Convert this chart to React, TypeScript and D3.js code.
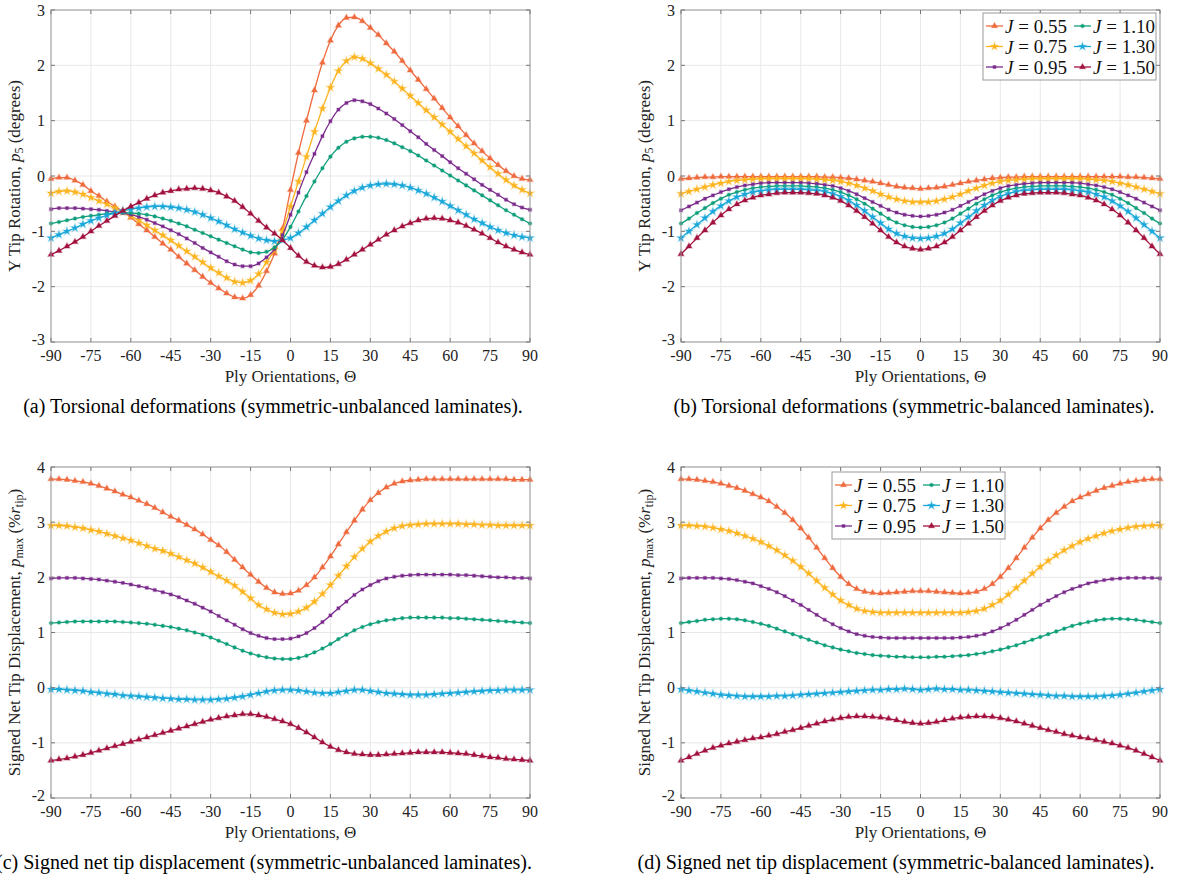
import React from "react";
import * as d3 from "d3";

// ---------- data ----------
const THETA = [
  -90, -87, -84, -81, -78, -75, -72, -69, -66, -63,
  -60, -57, -54, -51, -48, -45, -42, -39, -36, -33,
  -30, -27, -24, -21, -18, -15, -12, -9, -6, -3,
  0,
  3, 6, 9, 12, 15, 18, 21, 24, 27, 30,
  33, 36, 39, 42, 45, 48, 51, 54, 57, 60,
  63, 66, 69, 72, 75, 78, 81, 84, 87, 90,
];
const J_VALUES = ["0.55", "0.75", "0.95", "1.10", "1.30", "1.50"];
const X_TICKS = [-90, -75, -60, -45, -30, -15, 0, 15, 30, 45, 60, 75, 90];
const Y_TICKS_ROT = [-3, -2, -1, 0, 1, 2, 3];
const Y_TICKS_DISP = [-2, -1, 0, 1, 2, 3, 4];

// (a) torsional, symmetric-unbalanced
const A_055 = [
  -0.05, -0.03, -0.03, -0.08, -0.16, -0.27, -0.36, -0.46, -0.55, -0.64,
  -0.75, -0.87, -0.98, -1.10, -1.22, -1.33, -1.46, -1.58, -1.70, -1.82,
  -1.93, -2.03, -2.12, -2.19, -2.21, -2.15, -1.98, -1.72, -1.40, -0.95,
  -0.25,
  0.42, 1.00, 1.55, 2.05, 2.45, 2.72, 2.86, 2.87, 2.80, 2.68,
  2.55, 2.40, 2.25, 2.08, 1.91, 1.74, 1.57, 1.40, 1.23, 1.06,
  0.90, 0.74, 0.59, 0.45, 0.32, 0.20, 0.09, 0.00, -0.05, -0.07,
];
const A_075 = [
  -0.31, -0.28, -0.27, -0.29, -0.33, -0.39, -0.45, -0.51, -0.58, -0.65,
  -0.72, -0.80, -0.89, -0.98, -1.07, -1.16, -1.26, -1.36, -1.46, -1.56,
  -1.66, -1.75, -1.84, -1.91, -1.93, -1.89, -1.77, -1.56, -1.33, -1.00,
  -0.55,
  -0.10, 0.35, 0.80, 1.22, 1.60, 1.90, 2.08, 2.15, 2.12, 2.04,
  1.94, 1.83, 1.71, 1.58, 1.45, 1.32, 1.19, 1.06, 0.93, 0.80,
  0.67, 0.54, 0.41, 0.28, 0.16, 0.04, -0.07, -0.17, -0.25, -0.31,
];
const A_095 = [
  -0.60, -0.58, -0.58, -0.58, -0.59, -0.60, -0.61, -0.63, -0.65, -0.67,
  -0.70, -0.74, -0.79, -0.85, -0.91, -0.98, -1.05, -1.13, -1.21, -1.30,
  -1.38, -1.46, -1.54, -1.60, -1.63, -1.63, -1.58, -1.47, -1.32, -1.07,
  -0.70,
  -0.30, 0.07, 0.40, 0.72, 0.99, 1.20, 1.32, 1.37, 1.35, 1.30,
  1.22, 1.13, 1.03, 0.92, 0.81, 0.70, 0.58, 0.47, 0.36, 0.25,
  0.14, 0.04, -0.06, -0.16, -0.25, -0.34, -0.43, -0.51, -0.57, -0.61,
];
const A_110 = [
  -0.86, -0.83, -0.80, -0.77, -0.74, -0.72, -0.70, -0.68, -0.67, -0.66,
  -0.67, -0.68, -0.70, -0.73, -0.77, -0.81, -0.86, -0.91, -0.97, -1.03,
  -1.09, -1.15, -1.21, -1.27, -1.33, -1.38, -1.39, -1.37, -1.29, -1.15,
  -0.92,
  -0.64, -0.36, -0.10, 0.14, 0.35, 0.51, 0.62, 0.68, 0.71, 0.71,
  0.69, 0.65, 0.59, 0.52, 0.45, 0.37, 0.28, 0.19, 0.10, 0.01,
  -0.08, -0.17, -0.26, -0.35, -0.44, -0.53, -0.62, -0.70, -0.78, -0.86,
];
const A_130 = [
  -1.12, -1.06, -1.00, -0.94, -0.87, -0.81, -0.76, -0.71, -0.67, -0.63,
  -0.60, -0.58, -0.56, -0.55, -0.55, -0.56, -0.58, -0.61, -0.65, -0.70,
  -0.76, -0.82, -0.89, -0.96, -1.02, -1.08, -1.13, -1.16, -1.18, -1.16,
  -1.12,
  -1.03, -0.92, -0.80, -0.68, -0.56, -0.45, -0.35, -0.27, -0.21, -0.17,
  -0.15, -0.14, -0.15, -0.17, -0.21, -0.26, -0.32, -0.39, -0.46, -0.54,
  -0.62, -0.70, -0.78, -0.85, -0.92, -0.98, -1.03, -1.07, -1.10, -1.12,
];
const A_150 = [
  -1.42, -1.35, -1.27, -1.19, -1.10, -1.00, -0.90, -0.81, -0.72, -0.63,
  -0.55, -0.48, -0.41, -0.35, -0.30, -0.27, -0.24, -0.23, -0.22, -0.23,
  -0.26, -0.30, -0.37, -0.45, -0.56, -0.68, -0.81, -0.93, -1.04, -1.16,
  -1.30,
  -1.44, -1.55, -1.62, -1.65, -1.64, -1.59, -1.51, -1.42, -1.33, -1.24,
  -1.15, -1.06, -0.98, -0.91, -0.85, -0.80, -0.77, -0.76, -0.77, -0.80,
  -0.84, -0.90, -0.97, -1.04, -1.12, -1.20, -1.27, -1.33, -1.38, -1.42,
];

// (b) torsional, symmetric-balanced
const B_055 = [
  -0.05, -0.04, -0.03, -0.02, -0.02, -0.01, -0.01, -0.01, -0.01, -0.01,
  -0.01, -0.01, -0.01, -0.01, -0.01, -0.01, -0.01, -0.01, -0.02, -0.02,
  -0.03, -0.04, -0.06, -0.08, -0.10, -0.13, -0.16, -0.19, -0.21, -0.22,
  -0.23,
  -0.22, -0.21, -0.19, -0.16, -0.13, -0.10, -0.08, -0.06, -0.04, -0.03,
  -0.02, -0.02, -0.01, -0.01, -0.01, -0.01, -0.01, -0.01, -0.01, -0.01,
  -0.01, -0.01, -0.01, -0.01, -0.01, -0.02, -0.02, -0.03, -0.04, -0.05,
];
const B_075 = [
  -0.32, -0.28, -0.24, -0.20, -0.16, -0.13, -0.10, -0.08, -0.07, -0.06,
  -0.05, -0.05, -0.05, -0.05, -0.05, -0.05, -0.05, -0.06, -0.07, -0.08,
  -0.10, -0.13, -0.17, -0.22, -0.27, -0.33, -0.38, -0.42, -0.45, -0.47,
  -0.47,
  -0.47, -0.45, -0.42, -0.38, -0.33, -0.27, -0.22, -0.17, -0.13, -0.10,
  -0.08, -0.07, -0.06, -0.05, -0.05, -0.05, -0.05, -0.05, -0.05, -0.05,
  -0.06, -0.07, -0.08, -0.10, -0.13, -0.16, -0.20, -0.24, -0.28, -0.32,
];
const B_095 = [
  -0.62, -0.55, -0.48, -0.41, -0.35, -0.29, -0.24, -0.20, -0.17, -0.15,
  -0.13, -0.12, -0.12, -0.12, -0.12, -0.12, -0.13, -0.14, -0.16, -0.18,
  -0.22, -0.27, -0.33, -0.40, -0.47, -0.54, -0.61, -0.66, -0.70, -0.72,
  -0.73,
  -0.72, -0.70, -0.66, -0.61, -0.54, -0.47, -0.40, -0.33, -0.27, -0.22,
  -0.18, -0.16, -0.14, -0.13, -0.12, -0.12, -0.12, -0.12, -0.12, -0.13,
  -0.15, -0.17, -0.20, -0.24, -0.29, -0.35, -0.41, -0.48, -0.55, -0.62,
];
const B_110 = [
  -0.86, -0.77, -0.67, -0.58, -0.49, -0.41, -0.34, -0.29, -0.25, -0.22,
  -0.20, -0.19, -0.18, -0.18, -0.18, -0.18, -0.19, -0.20, -0.22, -0.25,
  -0.29, -0.35, -0.42, -0.50, -0.59, -0.68, -0.77, -0.84, -0.89, -0.92,
  -0.93,
  -0.92, -0.89, -0.84, -0.77, -0.68, -0.59, -0.50, -0.42, -0.35, -0.29,
  -0.25, -0.22, -0.20, -0.19, -0.18, -0.18, -0.18, -0.18, -0.19, -0.20,
  -0.22, -0.25, -0.29, -0.34, -0.41, -0.49, -0.58, -0.67, -0.77, -0.86,
];
const B_130 = [
  -1.12, -1.00, -0.88, -0.76, -0.64, -0.54, -0.45, -0.38, -0.33, -0.29,
  -0.27, -0.25, -0.24, -0.24, -0.24, -0.24, -0.25, -0.26, -0.28, -0.32,
  -0.37, -0.44, -0.53, -0.63, -0.74, -0.85, -0.96, -1.04, -1.09, -1.12,
  -1.13,
  -1.12, -1.09, -1.04, -0.96, -0.85, -0.74, -0.63, -0.53, -0.44, -0.37,
  -0.32, -0.28, -0.26, -0.25, -0.24, -0.24, -0.24, -0.24, -0.25, -0.27,
  -0.29, -0.33, -0.38, -0.45, -0.54, -0.64, -0.76, -0.88, -1.00, -1.12,
];
const B_150 = [
  -1.41, -1.27, -1.12, -0.98, -0.84, -0.71, -0.60, -0.51, -0.44, -0.39,
  -0.35, -0.33, -0.31, -0.30, -0.30, -0.30, -0.31, -0.32, -0.35, -0.39,
  -0.45, -0.53, -0.63, -0.74, -0.86, -0.98, -1.10, -1.20, -1.27, -1.31,
  -1.33,
  -1.31, -1.27, -1.20, -1.10, -0.98, -0.86, -0.74, -0.63, -0.53, -0.45,
  -0.39, -0.35, -0.32, -0.31, -0.30, -0.30, -0.30, -0.31, -0.33, -0.35,
  -0.39, -0.44, -0.51, -0.60, -0.71, -0.84, -0.98, -1.12, -1.27, -1.41,
];

// (c) signed net tip displacement, symmetric-unbalanced
const C_055 = [
  3.78, 3.78, 3.77, 3.75, 3.73, 3.70, 3.66, 3.61, 3.56, 3.50,
  3.45, 3.39, 3.33, 3.26, 3.18, 3.10, 3.03, 2.95, 2.87, 2.78,
  2.68, 2.58, 2.46, 2.32, 2.18, 2.05, 1.92, 1.81, 1.73, 1.70,
  1.71,
  1.76, 1.86, 2.00, 2.18, 2.38, 2.60, 2.82, 3.03, 3.23, 3.40,
  3.53, 3.63, 3.70, 3.74, 3.76, 3.77, 3.78, 3.78, 3.78, 3.78,
  3.78, 3.78, 3.78, 3.78, 3.78, 3.78, 3.78, 3.77, 3.77, 3.77,
];
const C_075 = [
  2.94, 2.94, 2.93, 2.91, 2.89, 2.86, 2.83, 2.79, 2.75, 2.71,
  2.67, 2.62, 2.57, 2.52, 2.48, 2.43, 2.37, 2.31, 2.25, 2.18,
  2.10, 2.02, 1.94, 1.85, 1.74, 1.62, 1.50, 1.42, 1.36, 1.33,
  1.34,
  1.38, 1.45, 1.56, 1.70, 1.86, 2.03, 2.20, 2.37, 2.52, 2.65,
  2.75, 2.83, 2.89, 2.93, 2.95, 2.96, 2.97, 2.97, 2.97, 2.97,
  2.97, 2.96, 2.96, 2.95, 2.95, 2.94, 2.94, 2.94, 2.94, 2.94,
];
const C_095 = [
  1.98, 1.99, 1.99, 1.99, 1.98, 1.97, 1.96, 1.94, 1.92, 1.90,
  1.87, 1.84, 1.81, 1.77, 1.73, 1.69, 1.64, 1.58, 1.52, 1.45,
  1.38, 1.30, 1.22, 1.14, 1.06, 0.99, 0.94, 0.90, 0.88, 0.88,
  0.89,
  0.93, 0.99, 1.08, 1.19, 1.31, 1.44, 1.56, 1.68, 1.78, 1.86,
  1.93, 1.98, 2.01, 2.03, 2.04, 2.05, 2.05, 2.05, 2.05, 2.05,
  2.04, 2.04, 2.03, 2.02, 2.01, 2.00, 2.00, 1.99, 1.99, 1.98,
];
const C_110 = [
  1.17, 1.18, 1.19, 1.20, 1.20, 1.20, 1.20, 1.20, 1.20, 1.19,
  1.18, 1.17, 1.16, 1.14, 1.12, 1.10, 1.07, 1.04, 1.00, 0.96,
  0.91, 0.85, 0.79, 0.73, 0.67, 0.62, 0.58, 0.55, 0.53, 0.52,
  0.52,
  0.54, 0.58, 0.64, 0.71, 0.79, 0.88, 0.96, 1.04, 1.10, 1.15,
  1.19, 1.22, 1.24, 1.26, 1.27, 1.27, 1.27, 1.27, 1.27, 1.26,
  1.26, 1.25, 1.24, 1.23, 1.22, 1.21, 1.20, 1.19, 1.18, 1.17,
];
const C_130 = [
  -0.03, -0.03, -0.04, -0.05, -0.06, -0.08, -0.09, -0.11, -0.12, -0.14,
  -0.15, -0.16, -0.17, -0.18, -0.19, -0.20, -0.21, -0.21, -0.22, -0.22,
  -0.22, -0.21, -0.20, -0.18, -0.16, -0.13, -0.10, -0.07, -0.05, -0.04,
  -0.04,
  -0.05, -0.07, -0.09, -0.10, -0.10, -0.08, -0.06, -0.04, -0.04, -0.06,
  -0.08, -0.10, -0.11, -0.12, -0.13, -0.13, -0.13, -0.12, -0.11, -0.10,
  -0.09, -0.08, -0.07, -0.06, -0.05, -0.05, -0.04, -0.04, -0.04, -0.04,
];
const C_150 = [
  -1.32, -1.30, -1.28, -1.25, -1.22, -1.18, -1.14, -1.10, -1.06, -1.02,
  -0.98, -0.94, -0.90, -0.86, -0.82, -0.78, -0.74, -0.70, -0.66, -0.62,
  -0.58, -0.55, -0.52, -0.50, -0.48, -0.48, -0.50, -0.53, -0.57, -0.61,
  -0.66,
  -0.73, -0.81, -0.90, -0.99, -1.07, -1.13, -1.17, -1.20, -1.21, -1.22,
  -1.22, -1.21, -1.20, -1.19, -1.18, -1.17, -1.17, -1.17, -1.17, -1.18,
  -1.19, -1.20, -1.22, -1.24, -1.26, -1.27, -1.29, -1.30, -1.31, -1.32,
];

// (d) signed net tip displacement, symmetric-balanced
const D_055 = [
  3.78, 3.78, 3.77, 3.75, 3.73, 3.70, 3.66, 3.62, 3.57, 3.51,
  3.45, 3.38, 3.28, 3.17, 3.04, 2.89, 2.72, 2.54, 2.35, 2.17,
  2.01, 1.88, 1.79, 1.74, 1.72, 1.71, 1.72, 1.73, 1.74, 1.75,
  1.75,
  1.75, 1.74, 1.73, 1.72, 1.71, 1.72, 1.74, 1.79, 1.88, 2.01,
  2.17, 2.35, 2.54, 2.72, 2.89, 3.04, 3.17, 3.28, 3.38, 3.45,
  3.51, 3.57, 3.62, 3.66, 3.70, 3.73, 3.75, 3.77, 3.78, 3.78,
];
const D_075 = [
  2.94, 2.94, 2.93, 2.92, 2.90, 2.87, 2.84, 2.80, 2.75, 2.70,
  2.64, 2.57, 2.49, 2.40, 2.30, 2.19, 2.07, 1.94, 1.81, 1.69,
  1.58, 1.50, 1.43, 1.39, 1.37, 1.36, 1.36, 1.36, 1.36, 1.36,
  1.36,
  1.36, 1.36, 1.36, 1.36, 1.36, 1.37, 1.39, 1.43, 1.50, 1.58,
  1.69, 1.81, 1.94, 2.07, 2.19, 2.30, 2.40, 2.49, 2.57, 2.64,
  2.70, 2.75, 2.80, 2.84, 2.87, 2.90, 2.92, 2.93, 2.94, 2.94,
];
const D_095 = [
  1.98, 1.99, 1.99, 1.99, 1.99, 1.98, 1.97, 1.95, 1.92, 1.89,
  1.84, 1.79, 1.73, 1.66, 1.58, 1.50, 1.41, 1.32, 1.23, 1.15,
  1.08, 1.02, 0.97, 0.94, 0.92, 0.91, 0.90, 0.90, 0.90, 0.90,
  0.90,
  0.90, 0.90, 0.90, 0.90, 0.91, 0.92, 0.94, 0.97, 1.02, 1.08,
  1.15, 1.23, 1.32, 1.41, 1.50, 1.58, 1.66, 1.73, 1.79, 1.84,
  1.89, 1.92, 1.95, 1.97, 1.98, 1.99, 1.99, 1.99, 1.99, 1.98,
];
const D_110 = [
  1.17, 1.19, 1.21, 1.23, 1.24, 1.25, 1.25, 1.24, 1.22, 1.19,
  1.16, 1.12, 1.07, 1.02, 0.97, 0.92, 0.87, 0.82, 0.77, 0.73,
  0.69, 0.66, 0.63, 0.61, 0.59, 0.58, 0.57, 0.56, 0.56, 0.55,
  0.55,
  0.55, 0.56, 0.56, 0.57, 0.58, 0.59, 0.61, 0.63, 0.66, 0.69,
  0.73, 0.77, 0.82, 0.87, 0.92, 0.97, 1.02, 1.07, 1.12, 1.16,
  1.19, 1.22, 1.24, 1.25, 1.25, 1.24, 1.23, 1.21, 1.19, 1.17,
];
const D_130 = [
  -0.03, -0.05, -0.07, -0.09, -0.11, -0.13, -0.14, -0.15, -0.16, -0.16,
  -0.16, -0.16, -0.15, -0.15, -0.14, -0.13, -0.12, -0.11, -0.10, -0.09,
  -0.08, -0.07, -0.06, -0.05, -0.04, -0.04, -0.03, -0.03, -0.02, -0.03,
  -0.04,
  -0.03, -0.02, -0.03, -0.03, -0.04, -0.04, -0.05, -0.06, -0.07, -0.08,
  -0.09, -0.10, -0.11, -0.12, -0.13, -0.14, -0.15, -0.15, -0.16, -0.16,
  -0.16, -0.16, -0.15, -0.14, -0.13, -0.11, -0.09, -0.07, -0.05, -0.03,
];
const D_150 = [
  -1.32, -1.26, -1.20, -1.14, -1.09, -1.05, -1.01, -0.98, -0.95, -0.92,
  -0.90, -0.87, -0.84, -0.80, -0.77, -0.73, -0.69, -0.65, -0.61, -0.58,
  -0.55, -0.53, -0.52, -0.52, -0.53, -0.54, -0.56, -0.59, -0.62, -0.64,
  -0.65,
  -0.64, -0.62, -0.59, -0.56, -0.54, -0.53, -0.52, -0.52, -0.53, -0.55,
  -0.58, -0.61, -0.65, -0.69, -0.73, -0.77, -0.80, -0.84, -0.87, -0.90,
  -0.92, -0.95, -0.98, -1.01, -1.05, -1.09, -1.14, -1.20, -1.26, -1.32,
];

// ---------- style ----------
const COLORS = ["#EF6A3E", "#FDB41E", "#7B2A8C", "#0F9F7A", "#1AA8DA", "#A3123F"];
const SYMBOLS = [
  d3.symbolTriangle,
  d3.symbolStar,
  d3.symbolSquare,
  d3.symbolCircle,
  d3.symbolStar,
  d3.symbolTriangle,
];
const SYMBOL_SIZES = [15, 18, 9, 10, 18, 15];
const SERIF = "'Liberation Serif', 'Times New Roman', serif";
const AXIS_GRAY = "#9a9a9a";
const GRID = "#e8e8e8";

type LegendPos = { x: number; y: number };
type PanelProps = {
  left: number;
  right: number;
  top: number;
  bottom: number;
  yDomain: [number, number];
  yTicks: number[];
  series: number[][];
  yLabel: "rot" | "disp";
  caption: string;
  captionX: number;
  legend?: LegendPos;
};

const symPath = (i: number) =>
  d3.symbol().type(SYMBOLS[i]).size(SYMBOL_SIZES[i])() as string;

function YLabel({ kind, x, y }: { kind: "rot" | "disp"; x: number; y: number }) {
  if (kind === "rot") {
    return (
      <text
        transform={`translate(${x},${y}) rotate(-90)`}
        textAnchor="middle"
        fontFamily={SERIF}
        fontSize={17}
        fill="#222"
      >
        Y Tip Rotation, <tspan fontStyle="italic">p</tspan>
        <tspan fontSize={12} dy={3}>5</tspan>
        <tspan dy={-3}> (degrees)</tspan>
      </text>
    );
  }
  return (
    <text
      transform={`translate(${x},${y}) rotate(-90)`}
      textAnchor="middle"
      fontFamily={SERIF}
      fontSize={17}
      fill="#222"
    >
      Signed Net Tip Displacement, <tspan fontStyle="italic">p</tspan>
      <tspan fontSize={12} dy={3}>max</tspan>
      <tspan dy={-3}> (%</tspan>
      <tspan fontStyle="italic">r</tspan>
      <tspan fontSize={12} dy={3}>tip</tspan>
      <tspan dy={-3}>)</tspan>
    </text>
  );
}

function Legend({ x, y }: LegendPos) {
  const w = 173;
  const h = 67;
  return (
    <g>
      <rect x={x} y={y} width={w} height={h} fill="#fff" stroke={AXIS_GRAY} strokeWidth={1} />
      {J_VALUES.map((j, i) => {
        const col = Math.floor(i / 3);
        const row = i % 3;
        const ex = x + 3 + col * 88;
        const ey = y + 13 + row * 20.5;
        return (
          <g key={j}>
            <line x1={ex} x2={ex + 17} y1={ey} y2={ey} stroke={COLORS[i]} strokeWidth={1.3} />
            <path
              d={symPath(i)}
              transform={`translate(${ex + 8.5},${ey})`}
              fill={COLORS[i]}
              stroke={COLORS[i]}
              strokeOpacity={0.35}
              strokeWidth={1.2}
            />
            <text
              x={ex + 19}
              y={ey}
              dominantBaseline="central"
              fontFamily={SERIF}
              fontSize={19}
              fill="#111"
            >
              <tspan fontStyle="italic">J</tspan> = {j}
            </text>
          </g>
        );
      })}
    </g>
  );
}

function Panel(p: PanelProps) {
  const x = d3.scaleLinear().domain([-90, 90]).range([p.left, p.right]);
  const y = d3.scaleLinear().domain(p.yDomain).range([p.bottom, p.top]);
  const line = d3
    .line<number>()
    .x((_, i) => x(THETA[i]))
    .y((d) => y(d))
    .curve(d3.curveMonotoneX);
  const tick = 4;
  return (
    <g>
      {X_TICKS.map((t) => (
        <line key={`gx${t}`} x1={x(t)} x2={x(t)} y1={p.top} y2={p.bottom} stroke={GRID} strokeWidth={1} />
      ))}
      {p.yTicks.map((t) => (
        <line key={`gy${t}`} x1={p.left} x2={p.right} y1={y(t)} y2={y(t)} stroke={GRID} strokeWidth={1} />
      ))}
      {p.series.map((s, i) => (
        <g key={`s${i}`}>
          <path d={line(s) as string} fill="none" stroke={COLORS[i]} strokeWidth={1.3} />
          {s.map((v, k) => (
            <path
              key={k}
              d={symPath(i)}
              transform={`translate(${x(THETA[k])},${y(v)})`}
              fill={COLORS[i]}
              stroke={COLORS[i]}
              strokeOpacity={0.3}
              strokeWidth={1.4}
            />
          ))}
        </g>
      ))}
      <rect
        x={p.left}
        y={p.top}
        width={p.right - p.left}
        height={p.bottom - p.top}
        fill="none"
        stroke={AXIS_GRAY}
        strokeWidth={1}
      />
      {X_TICKS.map((t) => (
        <g key={`tx${t}`}>
          <line x1={x(t)} x2={x(t)} y1={p.bottom} y2={p.bottom - tick} stroke="#777" />
          <line x1={x(t)} x2={x(t)} y1={p.top} y2={p.top + tick} stroke="#777" />
          <text
            x={x(t)}
            y={p.bottom + 19}
            textAnchor="middle"
            fontFamily={SERIF}
            fontSize={16}
            fill="#222"
          >
            {String(t)}
          </text>
        </g>
      ))}
      {p.yTicks.map((t) => (
        <g key={`ty${t}`}>
          <line x1={p.left} x2={p.left + tick} y1={y(t)} y2={y(t)} stroke="#777" />
          <line x1={p.right} x2={p.right - tick} y1={y(t)} y2={y(t)} stroke="#777" />
          <text
            x={p.left - 6}
            y={y(t) - (t === p.yDomain[0] ? 3 : 0)}
            textAnchor="end"
            dominantBaseline="central"
            fontFamily={SERIF}
            fontSize={16}
            fill="#222"
          >
            {String(t)}
          </text>
        </g>
      ))}
      <text
        x={(p.left + p.right) / 2}
        y={p.bottom + 40}
        textAnchor="middle"
        fontFamily={SERIF}
        fontSize={17}
        fill="#222"
      >
        Ply Orientations, Θ
      </text>
      <YLabel kind={p.yLabel} x={p.left - 31} y={(p.top + p.bottom) / 2} />
      {p.legend && <Legend x={p.legend.x} y={p.legend.y} />}
      <text
        x={p.captionX}
        y={p.bottom + 71}
        textAnchor="middle"
        fontFamily={SERIF}
        fontSize={20}
        fill="#000"
      >
        {p.caption}
      </text>
    </g>
  );
}

export default function App() {
  return (
    <svg
      width={1182}
      height={879}
      style={{ position: "absolute", left: 0, top: 0, background: "#fff" }}
    >
      <Panel
        left={51}
        right={530}
        top={10}
        bottom={342}
        yDomain={[-3, 3]}
        yTicks={Y_TICKS_ROT}
        series={[A_055, A_075, A_095, A_110, A_130, A_150]}
        yLabel="rot"
        caption="(a) Torsional deformations (symmetric-unbalanced laminates)."
        captionX={273}
      />
      <Panel
        left={681}
        right={1160}
        top={10}
        bottom={342}
        yDomain={[-3, 3]}
        yTicks={Y_TICKS_ROT}
        series={[B_055, B_075, B_095, B_110, B_130, B_150]}
        yLabel="rot"
        caption="(b) Torsional deformations (symmetric-balanced laminates)."
        captionX={914}
        legend={{ x: 983, y: 13 }}
      />
      <Panel
        left={51}
        right={530}
        top={467}
        bottom={798}
        yDomain={[-2, 4]}
        yTicks={Y_TICKS_DISP}
        series={[C_055, C_075, C_095, C_110, C_130, C_150]}
        yLabel="disp"
        caption="(c) Signed net tip displacement (symmetric-unbalanced laminates)."
        captionX={264}
      />
      <Panel
        left={681}
        right={1160}
        top={467}
        bottom={798}
        yDomain={[-2, 4]}
        yTicks={Y_TICKS_DISP}
        series={[D_055, D_075, D_095, D_110, D_130, D_150]}
        yLabel="disp"
        caption="(d) Signed net tip displacement (symmetric-balanced laminates)."
        captionX={896}
        legend={{ x: 832, y: 472 }}
      />
    </svg>
  );
}
